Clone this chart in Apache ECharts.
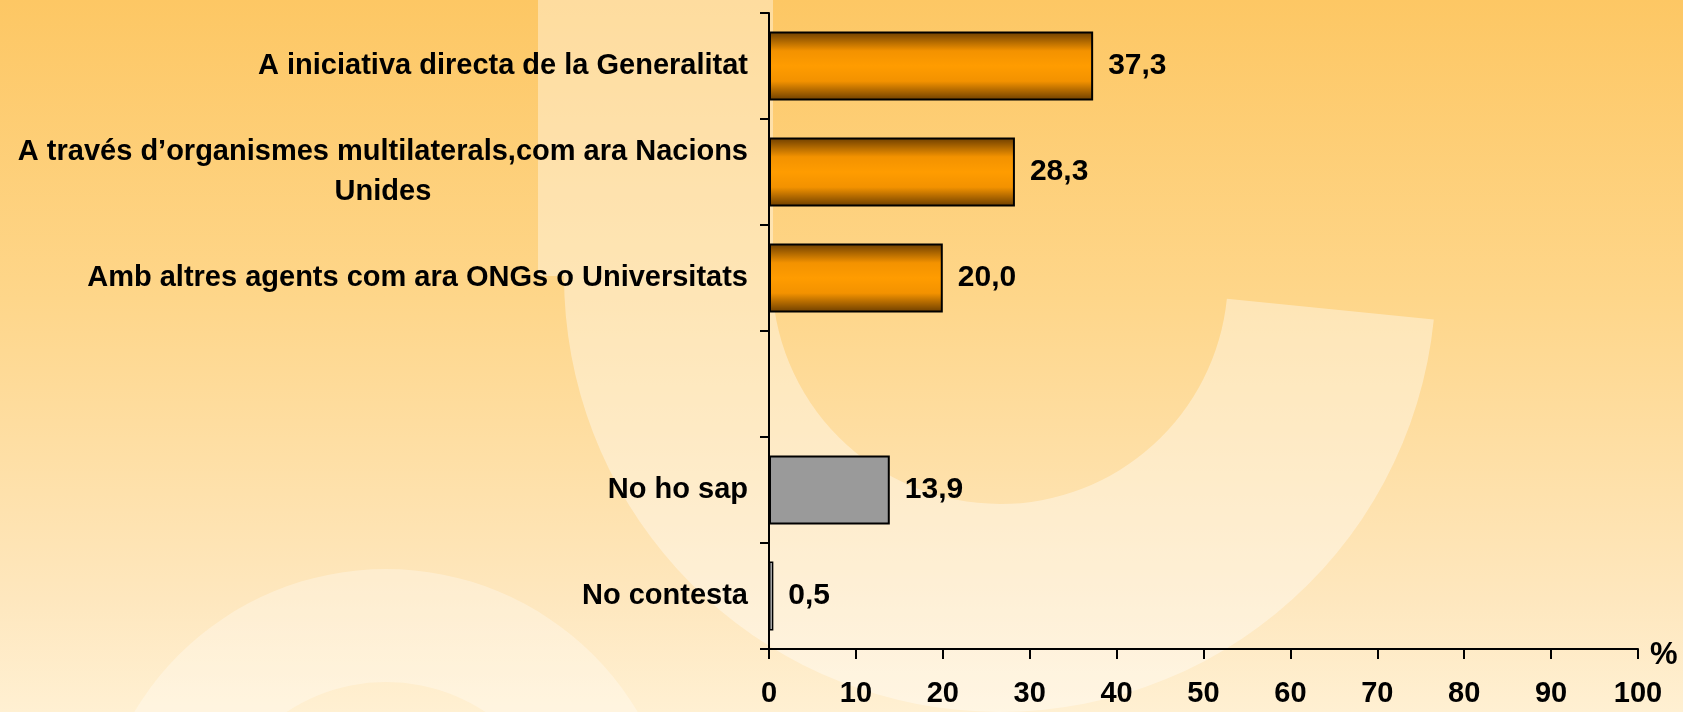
<!DOCTYPE html>
<html>
<head>
<meta charset="utf-8">
<script src="https://cdn.jsdelivr.net/npm/echarts@6/dist/echarts.min.js"></script>
<style>
    html, body { margin: 0; padding: 0; }
    #chart { width: 1683px; height: 712px; }
</style>
</head>
<body>
<div id="chart"></div>
<script>
    // categories (top to bottom), the empty one is the gap before "No ho sap"
    var categories = [
        'A iniciativa directa de la Generalitat',
        'A través d\u2019organismes multilaterals,com ara Nacions\nUnides',
        'Amb altres agents com ara ONGs o Universitats',
        '',
        'No ho sap',
        'No contesta'
    ];
    var values = [37.3, 28.3, 20.0, null, 13.9, 0.5];
    var barKinds = ['main', 'main', 'main', 'main', 'other', 'other'];
    var xTicks = [0, 10, 20, 30, 40, 50, 60, 70, 80, 90, 100];

    var FONT = "'Liberation Sans Narrow', 'Arial Narrow', 'Liberation Sans', sans-serif";

    var orange = new echarts.graphic.LinearGradient(0, 0, 0, 1, [
        { offset: 0, color: '#6b3d00' },
        { offset: 0.28, color: '#f39200' },
        { offset: 0.5, color: '#ff9c00' },
        { offset: 0.72, color: '#f39200' },
        { offset: 1, color: '#6b3d00' }
    ]);
    var light = 'rgba(255,255,255,0.38)';

    var chart = echarts.init(document.getElementById('chart'));
    var option = {
        animation: false,
        backgroundColor: {
            type: 'linear', x: 0, y: 0, x2: 0, y2: 1,
            colorStops: [
                { offset: 0, color: '#fdc764' },
                { offset: 0.42, color: '#fed68a' },
                { offset: 0.84, color: '#fee7be' },
                { offset: 1, color: '#fff0d2' }
            ]
        },
        graphic: [
            // light watermark letters in the background
            { type: 'rect', z: -10, silent: true, shape: { x: 538, y: -10, width: 235, height: 286 }, style: { fill: light } },
            { type: 'sector', z: -10, silent: true, shape: { cx: 1000, cy: 276, r: 436, r0: 228, startAngle: 0.1, endAngle: Math.PI, clockwise: true }, style: { fill: light } },
            { type: 'ring', z: -10, silent: true, shape: { cx: 386, cy: 862, r: 293, r0: 180 }, style: { fill: 'rgba(255,255,255,0.3)' } }
        ],
        grid: {
            left: 769,
            right: 45,
            top: 13,
            bottom: 63,
            containLabel: false
        },
        xAxis: {
            type: 'value',
            min: 0,
            max: 100,
            interval: 10,
            name: '%',
            nameLocation: 'end',
            nameGap: 12,
            nameTextStyle: {
                color: '#000',
                fontSize: 31,
                fontWeight: 'bold',
                fontFamily: FONT,
                verticalAlign: 'top',
                lineHeight: 12
            },
            axisLine: { show: true, lineStyle: { color: '#000', width: 2 } },
            axisTick: { show: true, length: 10, lineStyle: { color: '#000', width: 2 } },
            splitLine: { show: false },
            axisLabel: {
                margin: 30,
                color: '#000',
                fontSize: 29,
                fontWeight: 'bold',
                fontFamily: FONT,
                formatter: function (v) { return xTicks.indexOf(v) >= 0 ? String(v) : ''; }
            }
        },
        yAxis: {
            type: 'category',
            inverse: true,
            data: categories,
            axisLine: { show: true, lineStyle: { color: '#000', width: 2 } },
            axisTick: { show: true, length: 9, lineStyle: { color: '#000', width: 2 } },
            axisLabel: {
                margin: 21,
                color: '#000',
                fontSize: 29,
                fontWeight: 'bold',
                fontFamily: FONT,
                lineHeight: 40,
                formatter: function (v) {
                    if (!v) return '';
                    return v.split('\n').map(function (l) { return '{c|' + l + '}'; }).join('\n');
                },
                rich: {
                    c: {
                        align: 'center',
                        color: '#000',
                        fontSize: 29,
                        fontWeight: 'bold',
                        fontFamily: FONT,
                        lineHeight: 40
                    }
                }
            }
        },
        series: [
            {
                type: 'bar',
                barWidth: '65%',
                barMinWidth: 5,
                data: values.map(function (v, i) {
                    var tiny = v != null && v < 1;
                    return {
                        value: v,
                        itemStyle: {
                            color: barKinds[i] === 'main' ? orange : (tiny ? '#c4c4c4' : '#9a9a9a'),
                            borderColor: '#000',
                            borderWidth: tiny ? 1.5 : 2
                        }
                    };
                }),
                label: {
                    show: true,
                    position: 'right',
                    distance: 15,
                    color: '#000',
                    fontSize: 30,
                    fontWeight: 'bold',
                    fontFamily: FONT,
                    formatter: function (p) {
                        return p.value == null ? '' : p.value.toFixed(1).replace('.', ',');
                    }
                }
            }
        ]
    };
    chart.setOption(option);
</script>
</body>
</html>
